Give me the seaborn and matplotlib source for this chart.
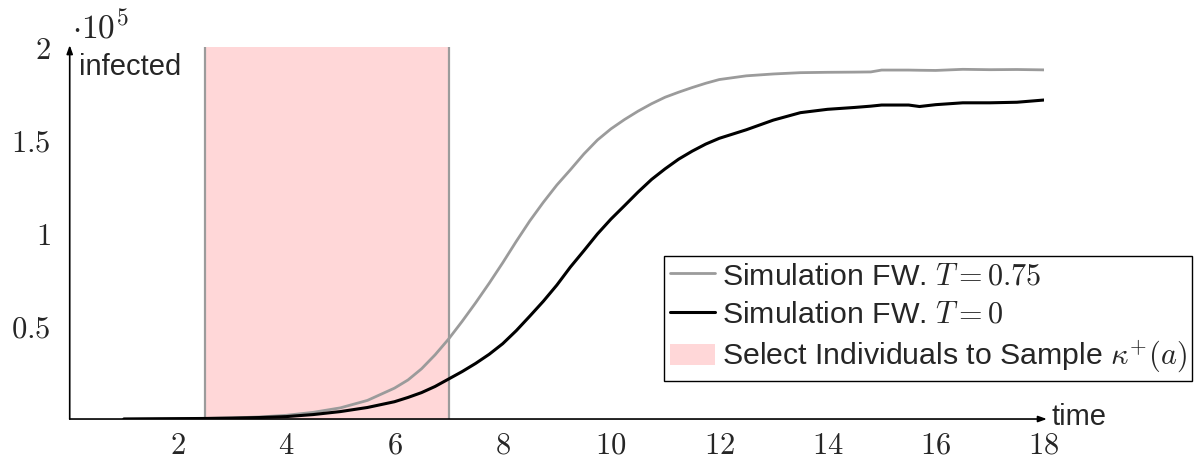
import matplotlib
matplotlib.use("Agg")
import matplotlib.pyplot as plt
import seaborn as sns
import pandas as pd
from matplotlib.lines import Line2D
from matplotlib.patches import Patch

# ---- data -------------------------------------------------------------
time = [1.0, 1.5, 2.0, 2.5, 3.0, 3.5, 4.0, 4.5, 5.0, 5.5, 6.0,
        6.25, 6.5, 6.75, 7.0, 7.25, 7.5, 7.75, 8.0, 8.25, 8.5, 8.75, 9.0,
        9.25, 9.5, 9.75, 10.0, 10.25, 10.5, 10.75, 11.0, 11.25, 11.5, 11.75,
        12.0, 12.5, 13.0, 13.5, 14.0, 14.5, 14.8, 15.0, 15.5, 15.7, 16.0,
        16.5, 17.0, 17.5, 18.0]
infected_T075 = [0, 100, 200, 300, 600, 1100, 2000, 3600, 6000, 10000, 16600,
                 21000, 27000, 34500, 43000, 52500, 62500, 73000, 84000, 95500,
                 106500, 116500, 125800, 134000, 142500, 150000, 156000, 161000,
                 165500, 169500, 173000, 175700, 178200, 180500, 182500,
                 184500, 185500, 186200, 186400, 186500, 186600, 187600, 187600,
                 187500, 187400, 188000, 187800, 187900, 187700]
infected_T0 = [0, 100, 200, 300, 500, 800, 1300, 2400, 4000, 6200, 9300,
               11600, 14200, 17500, 21500, 25500, 29900, 34800, 40500, 47500,
               55300, 63300, 72000, 81700, 90500, 99500, 107500, 114700, 122000,
               128800, 134500, 139700, 144000, 147800, 150900,
               155500, 160700, 164700, 166500, 167500, 168200, 168800, 168800,
               168000, 169000, 170000, 170000, 170300, 171500]
sample_window = [2.5, 7.0]

label_T075 = "Simulation FW. $T = 0.75$"
label_T0 = "Simulation FW. $T = 0$"
label_window = "Select Individuals to Sample $\\kappa^{+}(a)$"
xticks = [2, 4, 6, 8, 10, 12, 14, 16, 18]
xticklabels = ["$2$", "$4$", "$6$", "$8$", "$10$", "$12$", "$14$", "$16$", "$18$"]
yticks = [50000, 100000, 150000, 200000]
yticklabels = ["$0.5$", "$1$", "$1.5$", "$2$"]
y_label = "infected"
x_label = "time"
scale_label = "$\\cdot 10^{5}$"

# ---- style ------------------------------------------------------------
sns.set_style("white")
plt.rcParams["font.family"] = ["Liberation Sans", "DejaVu Sans"]
plt.rcParams["mathtext.fontset"] = "cm"
FS = 21
TICK_FS = 22

pink = "#FFD7D8"
gray = "#9B9B9B"

df = pd.DataFrame({
    "time": time * 2,
    "infected": infected_T075 + infected_T0,
    "series": [label_T075] * len(time) + [label_T0] * len(time),
})

fig = plt.figure(figsize=(12.04, 4.59), dpi=100)
ax = fig.add_axes([0.0579, 0.0871, 0.8092, 0.8105])

ax.axvspan(sample_window[0], sample_window[1], color=pink, lw=0, zorder=0)
for xv in sample_window:
    ax.axvline(xv, color=gray, lw=1.6, zorder=1)

sns.lineplot(data=df, x="time", y="infected", hue="series",
             palette={label_T075: gray, label_T0: "black"},
             hue_order=[label_T075, label_T0], ax=ax, legend=False,
             estimator=None, sort=False)
lines = ax.get_lines()
for ln in lines[-2:]:
    ln.set_zorder(3)
    ln.set_solid_joinstyle("round")
lines[-2].set_linewidth(2.0)
lines[-1].set_linewidth(2.2)

ax.set_xlim(0, 18)
ax.set_ylim(0, 200000)
ax.set_xlabel("")
ax.set_ylabel("")
ax.set_xticks(xticks)
ax.set_xticklabels(xticklabels, fontsize=TICK_FS)
ax.set_yticks(yticks)
ax.set_yticklabels(yticklabels, fontsize=TICK_FS)
ax.tick_params(axis="both", direction="inout", length=9, width=0.9,
               color="0.55")
ax.tick_params(axis="x", pad=4)
ax.tick_params(axis="y", pad=9)

for s in ax.spines.values():
    s.set_visible(False)

arrow = dict(arrowstyle="-|>,head_length=0.5,head_width=0.18", color="black",
             lw=1.2, shrinkA=0, shrinkB=0)
ax.annotate("", xy=(1.003, 0), xytext=(0, 0), xycoords="axes fraction",
            arrowprops=arrow, annotation_clip=False)
ax.annotate("", xy=(0, 1.005), xytext=(0, 0), xycoords="axes fraction",
            arrowprops=arrow, annotation_clip=False)

ax.annotate(y_label, xy=(0, 1), xycoords="axes fraction", xytext=(9, -6),
            textcoords="offset pixels", ha="left", va="top", fontsize=FS)
ax.annotate(x_label, xy=(1, 0), xycoords="axes fraction", xytext=(8, 2),
            textcoords="offset pixels", ha="left", va="center", fontsize=FS)
ax.annotate(scale_label, xy=(0, 1), xycoords="axes fraction", xytext=(2, 8),
            textcoords="offset pixels", ha="left", va="baseline", fontsize=24)

handles = [Line2D([0], [0], color=gray, lw=2.0),
           Line2D([0], [0], color="black", lw=2.2),
           Patch(facecolor=pink, edgecolor="none")]
leg = fig.legend(handles, [label_T075, label_T0, label_window],
                 loc="upper left", bbox_to_anchor=(0.5515, 0.4423),
                 fontsize=21.8, frameon=True, fancybox=False, framealpha=1,
                 edgecolor="black", handlelength=1.5, handletextpad=0.2,
                 labelspacing=0.34, borderpad=0.2, borderaxespad=0)
leg.get_frame().set_linewidth(1.0)

fig.savefig("out.png", dpi=100)
